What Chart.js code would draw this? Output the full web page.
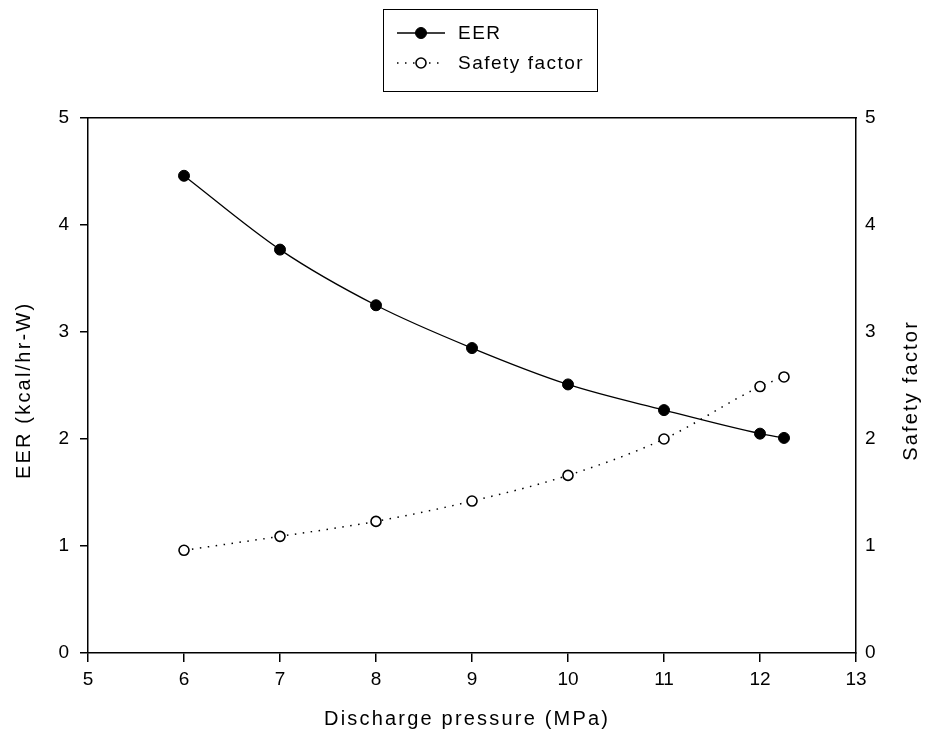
<!DOCTYPE html>
<html>
<head>
<meta charset="utf-8">
<script src="https://cdn.jsdelivr.net/npm/chart.js@4"></script>
<style>
  html, body { margin: 0; padding: 0; background: #fff; }
  #wrap { width: 927px; height: 744px; position: relative; }
</style>
</head>
<body>
<div id="wrap"><canvas id="c" width="927" height="744"></canvas></div>
<script>
const pressure = [6, 7, 8, 9, 10, 11, 12, 12.25];
const eer = [4.46, 3.77, 3.25, 2.85, 2.51, 2.27, 2.05, 2.01];
const safetyFactor = [0.96, 1.09, 1.23, 1.42, 1.66, 2.00, 2.49, 2.58];
const xTicks = [5, 6, 7, 8, 9, 10, 11, 12, 13];
const yTicks = [0, 1, 2, 3, 4, 5];
const seriesNames = ['EER', 'Safety factor'];
const xTitle = 'Discharge pressure (MPa)';
const yTitle = 'EER (kcal/hr-W)';
const y2Title = 'Safety factor';

const FONT = '"Liberation Sans", Arial, sans-serif';

const toPts = (ys) => pressure.map((x, i) => ({ x: x, y: ys[i] }));

const resetSpacing = {
  id: 'resetSpacing',
  beforeDraw(chart) { chart.ctx.letterSpacing = '0px'; }
};

function drawTitle(ctx, text, x, y, rot) {
  ctx.save();
  ctx.letterSpacing = '2.2px';
  ctx.fillStyle = '#000';
  ctx.font = '20px ' + FONT;
  ctx.textAlign = 'center';
  ctx.textBaseline = 'middle';
  ctx.translate(x, y);
  if (rot) ctx.rotate(rot);
  ctx.fillText(text, 1.1, 0);
  ctx.restore();
}

const extras = {
  id: 'extras',
  afterDraw(chart) {
    const ctx = chart.ctx;
    const area = chart.chartArea;
    const midY = (area.top + area.bottom) / 2 + 6;
    drawTitle(ctx, xTitle, (area.left + area.right) / 2 - 6, 719, 0);
    drawTitle(ctx, yTitle, 24, midY, -Math.PI / 2);
    drawTitle(ctx, y2Title, 911, midY, -Math.PI / 2);

    // legend
    ctx.save();
    ctx.letterSpacing = '1.5px';
    ctx.strokeStyle = '#000';
    ctx.lineWidth = 1;
    ctx.strokeRect(383.5, 9.5, 214, 82);
    const rows = [
      { ds: chart.data.datasets[0], y: 33 },
      { ds: chart.data.datasets[1], y: 63 }
    ];
    rows.forEach(r => {
      ctx.save();
      ctx.strokeStyle = r.ds.borderColor;
      ctx.lineWidth = r.ds.borderWidth;
      ctx.setLineDash(r.ds.borderDash || []);
      ctx.beginPath();
      ctx.moveTo(397, r.y);
      ctx.lineTo(445, r.y);
      ctx.stroke();
      ctx.setLineDash([]);
      ctx.beginPath();
      ctx.arc(421, r.y, r.ds.pointRadius, 0, Math.PI * 2);
      ctx.fillStyle = r.ds.pointBackgroundColor;
      ctx.fill();
      ctx.lineWidth = r.ds.pointBorderWidth;
      ctx.strokeStyle = r.ds.pointBorderColor;
      ctx.stroke();
      ctx.restore();
      ctx.fillStyle = '#000';
      ctx.font = '19px ' + FONT;
      ctx.textAlign = 'left';
      ctx.textBaseline = 'middle';
      ctx.fillText(r.ds.label, 458, r.y + 1);
    });
    ctx.restore();
  }
};

const tickFont = { family: FONT, size: 19 };

new Chart(document.getElementById('c'), {
  type: 'scatter',
  data: {
    datasets: [
      {
        label: seriesNames[0],
        data: toPts(eer),
        showLine: true,
        borderColor: '#000',
        borderWidth: 1.3,
        cubicInterpolationMode: 'monotone',
        pointRadius: 5.5,
        pointBackgroundColor: '#000',
        pointBorderColor: '#000',
        pointBorderWidth: 1,
        yAxisID: 'y'
      },
      {
        label: seriesNames[1],
        data: toPts(safetyFactor),
        showLine: true,
        borderColor: '#000',
        borderWidth: 1.5,
        borderDash: [1.5, 6.5],
        cubicInterpolationMode: 'monotone',
        pointRadius: 5,
        pointBackgroundColor: '#fff',
        pointBorderColor: '#000',
        pointBorderWidth: 1.6,
        yAxisID: 'y2'
      }
    ]
  },
  options: {
    responsive: false,
    animation: false,
    devicePixelRatio: 1,
    layout: { padding: 0 },
    plugins: { legend: { display: false }, tooltip: { enabled: false } },
    scales: {
      x: {
        type: 'linear',
        position: 'bottom',
        min: xTicks[0],
        max: xTicks[xTicks.length - 1],
        afterBuildTicks: (s) => { s.ticks = xTicks.map(v => ({ value: v })); },
        afterFit: (s) => { s.height = 91; },
        grid: { drawOnChartArea: false, drawTicks: true, tickLength: 9, color: '#000', lineWidth: 1.5 },
        border: { display: true, color: '#000', width: 1.5 },
        ticks: { color: '#000', font: tickFont, padding: 6, maxRotation: 0 },
        title: { display: false, text: xTitle }
      },
      xTop: {
        type: 'linear',
        position: 'top',
        min: xTicks[0],
        max: xTicks[xTicks.length - 1],
        afterFit: (s) => { s.height = 118; },
        grid: { display: false },
        border: { display: true, color: '#000', width: 1.5 },
        ticks: { display: false }
      },
      y: {
        type: 'linear',
        position: 'left',
        min: yTicks[0],
        max: yTicks[yTicks.length - 1],
        afterBuildTicks: (s) => { s.ticks = yTicks.map(v => ({ value: v })); },
        afterFit: (s) => { s.width = 88; },
        grid: { drawOnChartArea: false, drawTicks: true, tickLength: 8, color: '#000', lineWidth: 1.5 },
        border: { display: true, color: '#000', width: 1.5 },
        ticks: { color: '#000', font: tickFont, padding: 11 },
        title: { display: false, text: yTitle }
      },
      y2: {
        type: 'linear',
        position: 'right',
        min: yTicks[0],
        max: yTicks[yTicks.length - 1],
        afterBuildTicks: (s) => { s.ticks = yTicks.map(v => ({ value: v })); },
        afterFit: (s) => { s.width = 71; },
        grid: { display: false, drawTicks: false },
        border: { display: true, color: '#000', width: 1.5 },
        ticks: { color: '#000', font: tickFont, padding: 9 }
      }
    }
  },
  plugins: [resetSpacing, extras]
});
</script>
</body>
</html>
